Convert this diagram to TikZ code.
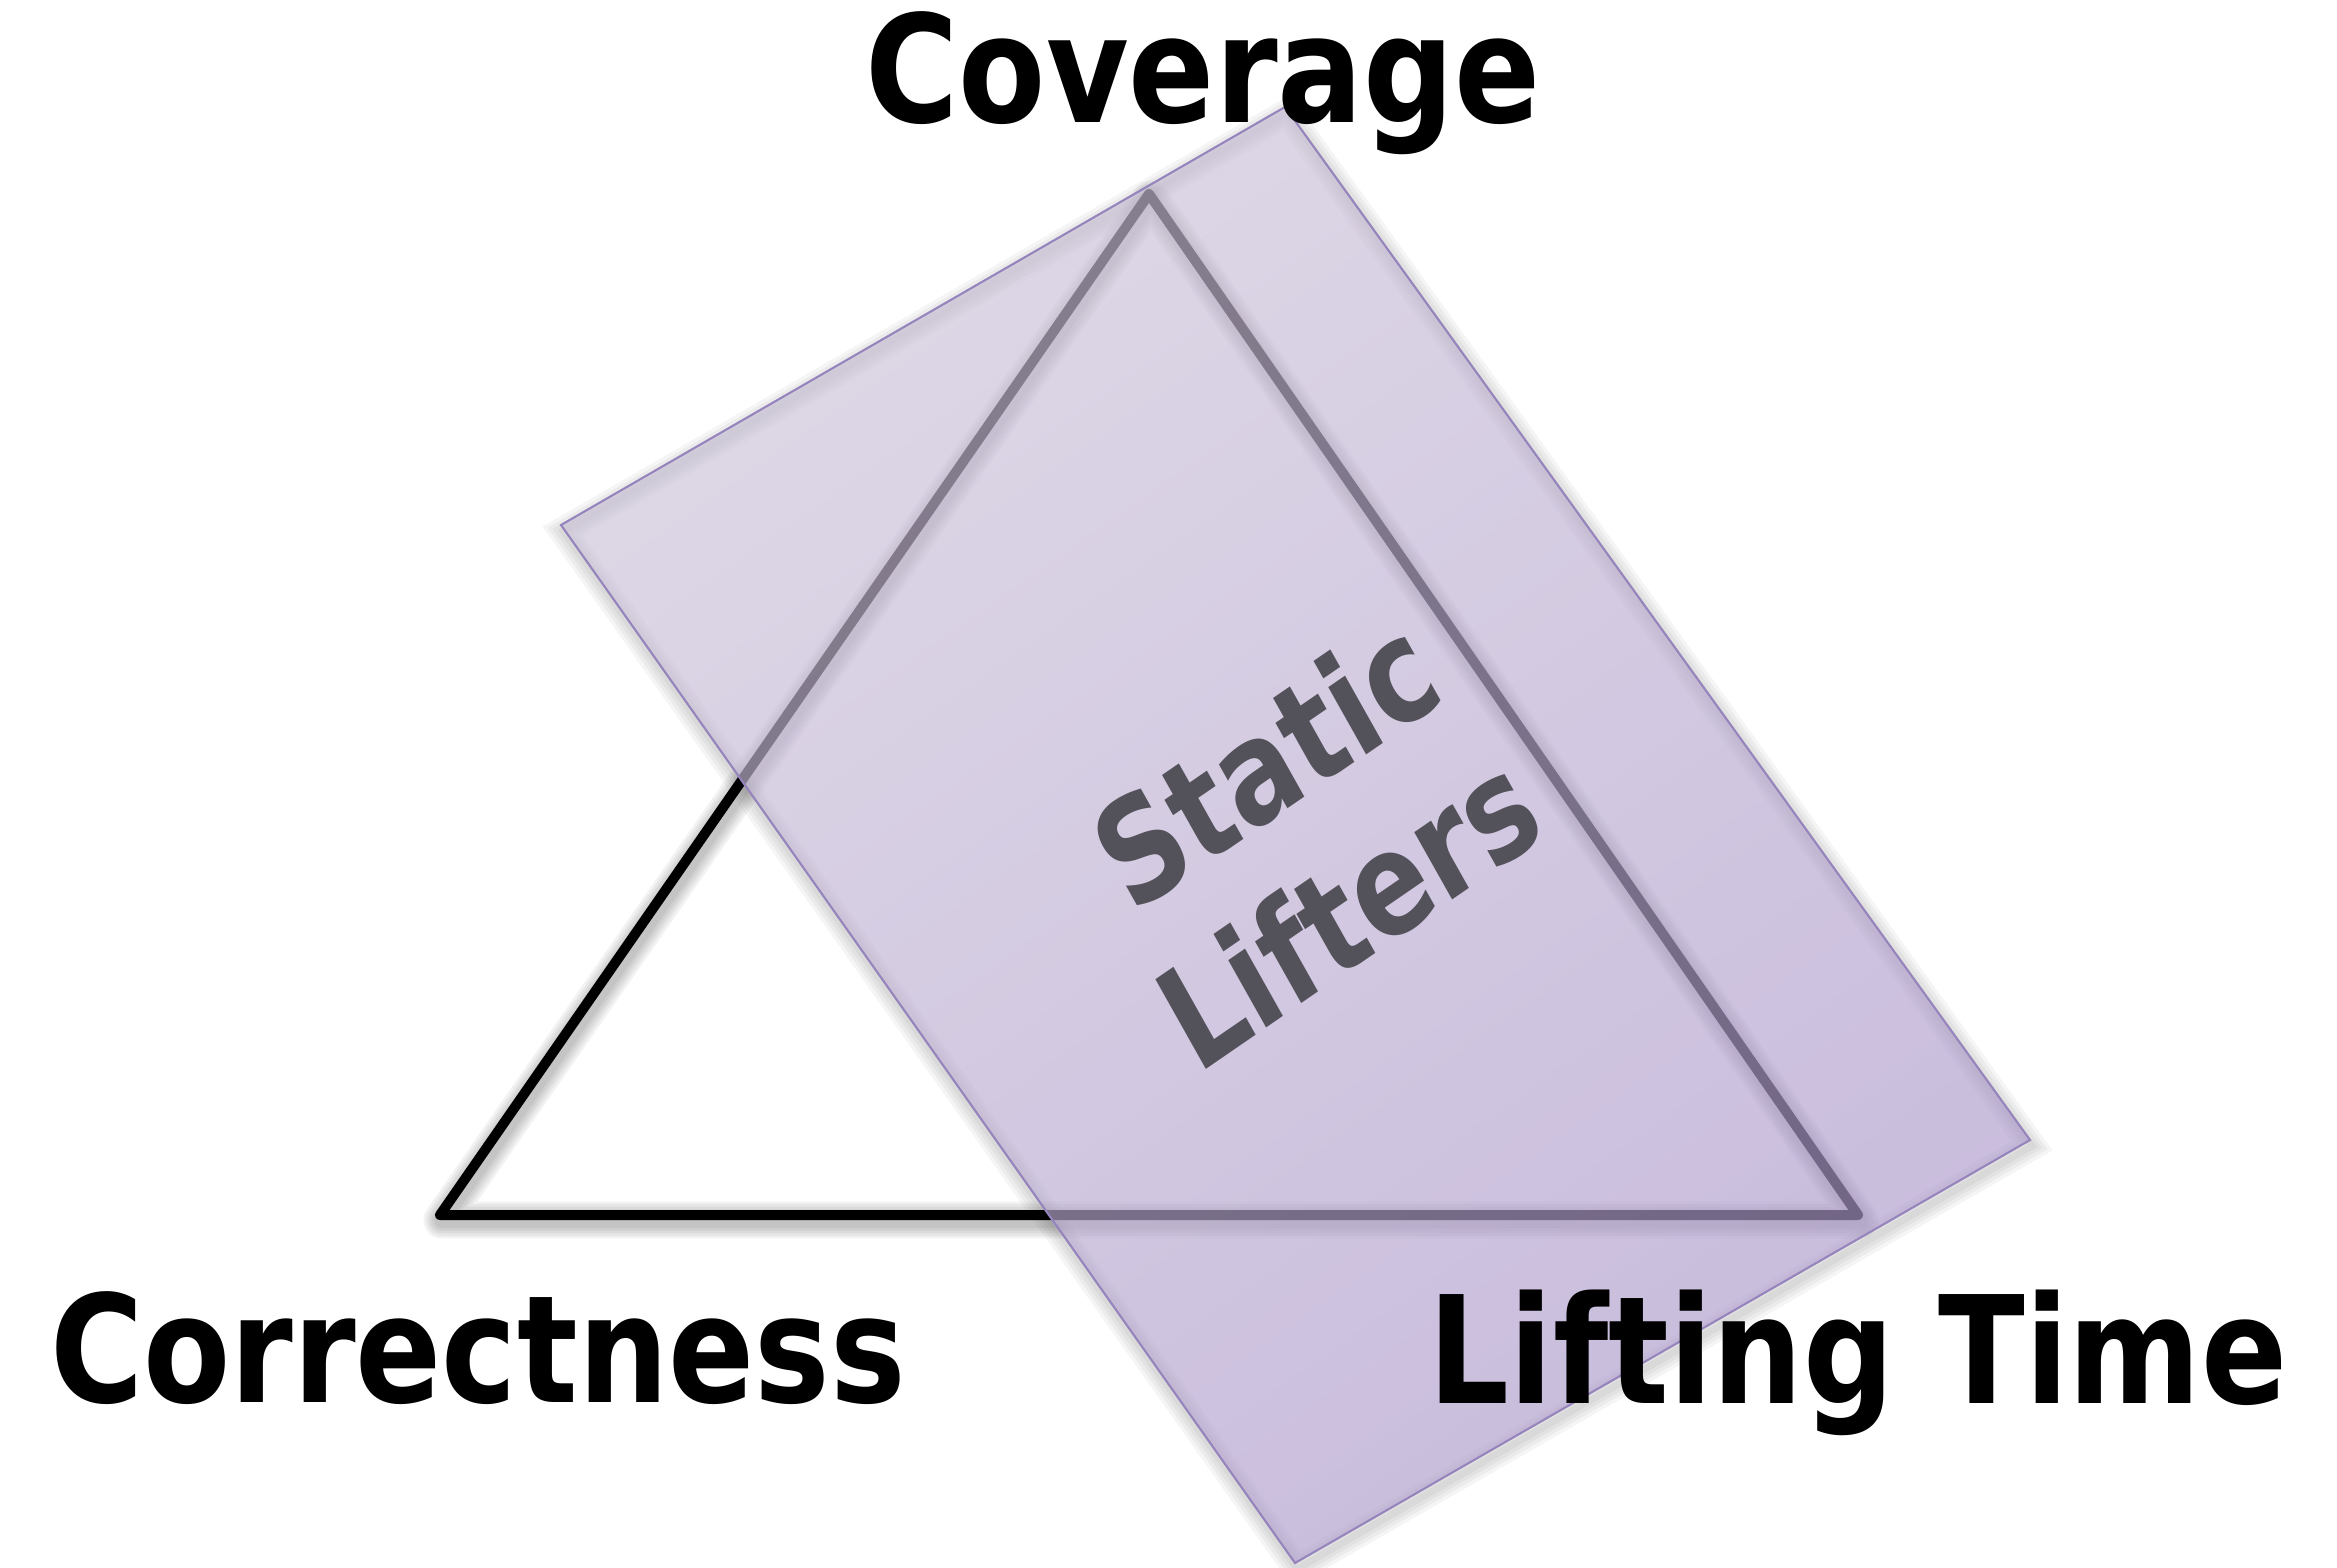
\documentclass[tikz,border=0pt]{standalone}
\usepackage{fontspec}
\setmainfont{DejaVu Sans}
\usetikzlibrary{calc}

\definecolor{planetop}{RGB}{205,196,217}
\definecolor{planebot}{RGB}{172,153,203}
\definecolor{planeedge}{RGB}{150,132,188}
\definecolor{lifterink}{RGB}{83,81,90}

\tikzset{
  cornerlabel/.style={font=\bfseries\fontsize{42.5}{50}\selectfont, anchor=base, inner sep=0pt},
  triline/.style={line width=2.85pt, line join=round, line cap=round},
  planeline/.style={planeedge, line width=0.6pt, line join=miter},
  softshade/.style={black, line join=round, line cap=round},
}

\begin{document}
\begin{tikzpicture}[x=0.01cm, y=-0.01cm]
\useasboundingbox (0,0) rectangle (2337,1567);

% triangle corners
\coordinate (apex)  at (1149,194);
\coordinate (left)  at (440,1215);
\coordinate (right) at (1858,1215);

% corners of the tilted plane
\coordinate (pT) at (1285,107);
\coordinate (pR) at (2030,1140);
\coordinate (pB) at (1295,1563);
\coordinate (pL) at (561,525);

% soft shadow of the triangle
\foreach \w in {4.5,6,7.5,9,10.5} {
  \draw[softshade, line width=\w pt, opacity=0.05]
    ($(apex)+(2,5)$) -- ($(left)+(2,5)$) -- ($(right)+(2,5)$) -- cycle;
}
\draw[triline] (apex) -- (left) -- (right) -- cycle;

% soft shadow of the plane
\foreach \w in {2,4,6,8} {
  \draw[softshade, line join=miter, line width=\w pt, opacity=0.04]
    ($(pL)+(2,6)$) -- ($(pT)+(2,6)$) -- ($(pR)+(2,6)$) -- ($(pB)+(2,6)$) -- cycle;
}

% translucent plane
\shade[top color=planetop, bottom color=planebot, shading angle=35, opacity=0.66]
  (pL) -- (pT) -- (pR) -- (pB) -- cycle;
\draw[planeline] (pL) -- (pT) -- (pR) -- (pB) -- cycle;

% corner labels
\node[cornerlabel] (coverage) at (1203,123) {\scalebox{0.85}[1]{Coverage}};
\node[cornerlabel] (correctness) at (478,1402) {\scalebox{0.85}[1]{Correctness}};
\node[cornerlabel] (liftingtime) at (1858,1403) {\scalebox{0.85}[1]{Lifting Time}};

% label inside the plane
\node[font=\bfseries\fontsize{40}{48}\selectfont, text=lifterink, align=center,
      inner sep=0pt, rotate=34.5, xslant=0.09, xscale=0.83] (lifters) at (1306,835) {Static\\Lifters};
\end{tikzpicture}
\end{document}
